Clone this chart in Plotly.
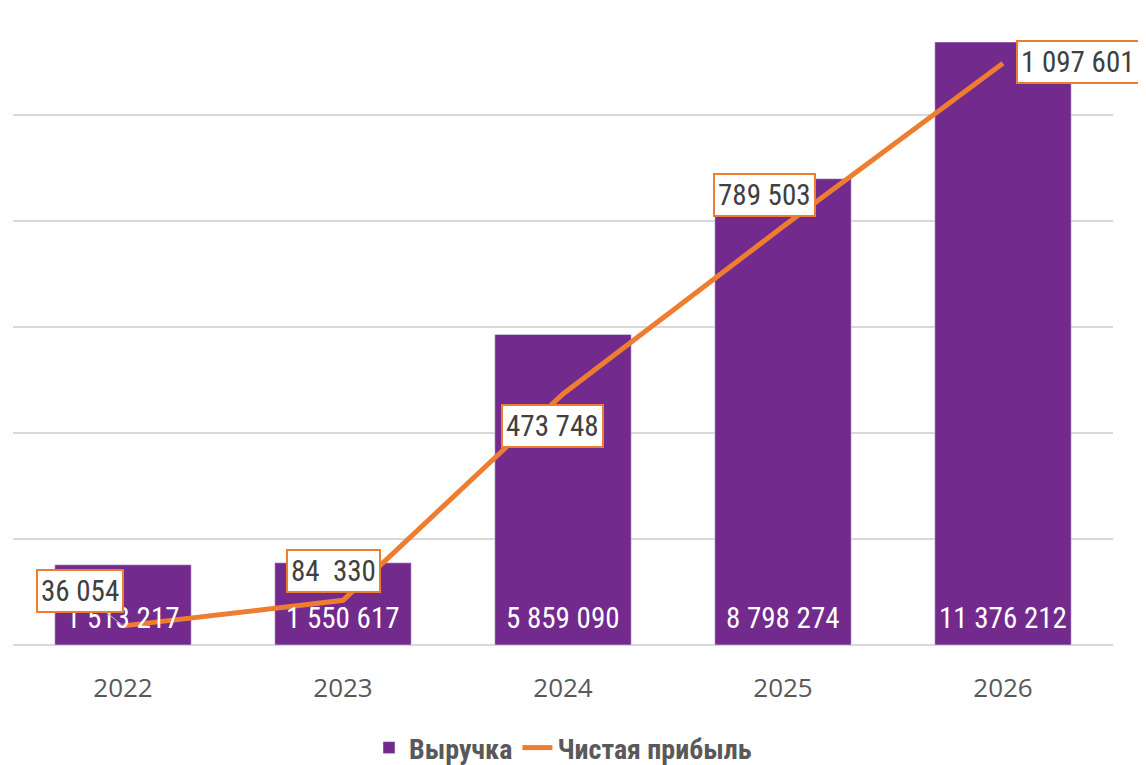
import plotly.graph_objects as go

years = ["2022", "2023", "2024", "2025", "2026"]
revenue = [1513217, 1550617, 5859090, 8798274, 11376212]
profit = [36054, 84330, 473748, 789503, 1097601]
profit_labels = ["36 054", "84\u00a0\u00a0330", "473 748", "789 503", "1 097 601"]
label_shift_x = [-43, -10, -11, -19, 75]
label_shift_y = [35, 29, -32, 32, 1]

FONT = "Roboto Condensed, Liberation Sans Narrow, DejaVu Sans Condensed, sans-serif"
PURPLE = "#722B8C"
ORANGE = "#ED7D31"

fig = go.Figure()
fig.add_trace(go.Bar(
    x=years, y=revenue, name="Выручка", marker_color=PURPLE,
))
fig.add_trace(go.Scatter(
    x=years, y=profit, name="Чистая прибыль", yaxis="y2", mode="lines",
    line=dict(color=ORANGE, width=5),
))

# bar value labels (inside, near the base)
for i, v in enumerate(revenue):
    fig.add_annotation(
        x=i, y=0, xref="x", yref="y", text=f"{v:,}".replace(",", " "),
        showarrow=False, yanchor="middle", yshift=27,
        font=dict(size=29, color="white", family=FONT),
    )

# line value labels (boxed)
for i, (v, t, dx, dy) in enumerate(zip(profit, profit_labels, label_shift_x, label_shift_y)):
    common = dict(
        x=i, y=v, xref="x", yref="y2", text=t,
        font=dict(size=29, color="#404040", family=FONT),
        bgcolor="white", bordercolor=ORANGE, borderwidth=2, borderpad=3,
    )
    if i == 0:
        fig.add_annotation(**common, showarrow=True, arrowhead=0, arrowwidth=1.2,
                           arrowcolor="#A6A6A6", ax=dx, ay=-dy, standoff=0)
    else:
        fig.add_annotation(**common, showarrow=False, xshift=dx, yshift=dy)

fig.update_layout(
    width=1146, height=765,
    margin=dict(l=5, r=41, t=1, b=127),
    plot_bgcolor="white", paper_bgcolor="white",
    bargap=0.38,
    xaxis=dict(type="category", categoryorder="array", categoryarray=years,
               range=[-0.5, 4.5], showline=False, automargin=False,
               tickfont=dict(size=26, color="#595959", family="Open Sans, sans-serif"),
               ticks="outside", ticklen=20, tickcolor="rgba(0,0,0,0)"),
    yaxis=dict(range=[0, 12000000], dtick=2000000, showticklabels=False,
               showgrid=True, gridcolor="#D9D9D9", gridwidth=1.5, zeroline=True,
               zerolinecolor="#D9D9D9", zerolinewidth=2, automargin=False),
    yaxis2=dict(range=[0, 1200000], overlaying="y", side="right", showticklabels=False,
                showgrid=False, zeroline=False, automargin=False),
    legend=dict(orientation="h", x=0.5, xanchor="center", y=-0.160, yanchor="middle",
                font=dict(size=28, color="#595959", family=FONT, weight="bold")),
    showlegend=True,
)

fig.write_html("out.html")
